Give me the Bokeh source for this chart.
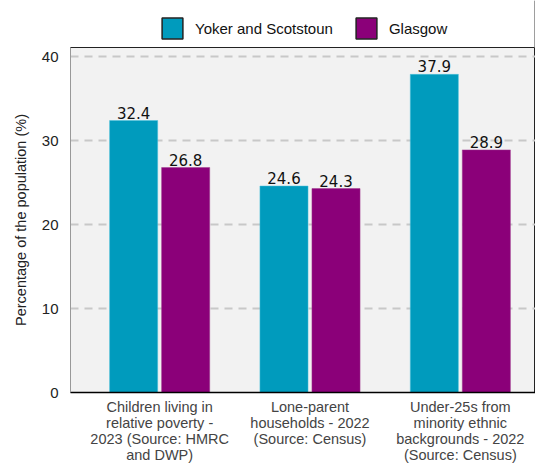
from bokeh.plotting import figure
from bokeh.layouts import column
from bokeh.models import ColumnDataSource, Range1d, Legend, LegendItem, FixedTicker
from bokeh.embed import file_html
from bokeh.resources import INLINE
from bokeh.core.properties import value

categories = ["Children living in\nrelative poverty -\n2023 (Source: HMRC\nand DWP)",
              "Lone-parent\nhouseholds - 2022\n(Source: Census)",
              "Under-25s from\nminority ethnic\nbackgrounds - 2022\n(Source: Census)"]
series_names = ["Yoker and Scotstoun", "Glasgow"]
yoker = [32.4, 24.6, 37.9]
glasgow = [26.8, 24.3, 28.9]
y_ticks = [0, 10, 20, 30, 40]
colors = ["#009bbd", "#8b0079"]

xs = list(range(len(categories)))
off = 0.173
bw = 0.32

# ---- legend strip ----
lf = figure(width=535, height=47, output_backend="svg", toolbar_location=None,
            x_range=Range1d(0, 1), y_range=Range1d(0, 1),
            min_border_left=70, min_border_right=0, min_border_top=0, min_border_bottom=0)
lf.axis.visible = False
lf.grid.visible = False
lf.outline_line_color = None
lf.background_fill_color = "white"
lr1 = lf.vbar(x=[5], top=[5], width=0.1, fill_color=colors[0], line_color="#222222", line_width=1.5)
lr2 = lf.vbar(x=[5], top=[5], width=0.1, fill_color=colors[1], line_color="#222222", line_width=1.5)
legend = Legend(items=[LegendItem(label=series_names[0], renderers=[lr1]),
                       LegendItem(label=series_names[1], renderers=[lr2])],
                orientation="horizontal", location=(89, 6),
                glyph_width=26, glyph_height=26, spacing=20, label_standoff=10,
                label_text_font="Liberation Sans", label_text_font_size="15px",
                label_text_color="#111111", border_line_color=None,
                background_fill_alpha=0, padding=4, margin=0)
lf.add_layout(legend, "center")

# ---- main chart ----
p = figure(width=535, height=418, output_backend="svg", toolbar_location=None,
           x_range=Range1d(-0.593, 2.5), y_range=Range1d(0, 41.1),
           min_border_left=70, min_border_right=0, min_border_top=0, min_border_bottom=0)
p.background_fill_color = "#f2f2f2"
p.border_fill_color = "white"
p.outline_line_color = "#222222"
p.outline_line_width = 1

src1 = ColumnDataSource(dict(x=[x - off for x in xs], top=yoker, lab=[f"{v:.1f}" for v in yoker]))
src2 = ColumnDataSource(dict(x=[x + off for x in xs], top=glasgow, lab=[f"{v:.1f}" for v in glasgow]))

r1 = p.vbar(x="x", top="top", width=bw, source=src1, fill_color=colors[0], line_color="#4fc3dc", line_width=0.5)
r2 = p.vbar(x="x", top="top", width=bw, source=src2, fill_color=colors[1], line_color="#a03a8f", line_width=0.5)

for s in (src1, src2):
    p.text(x="x", y="top", text="lab", source=s, text_align="center", text_baseline="bottom",
           y_offset=-2, text_font=value("DejaVu Sans"), text_font_size="15px", text_color="#111111")

p.xgrid.visible = False
p.ygrid.ticker = FixedTicker(ticks=y_ticks)
p.ygrid.grid_line_color = "#c8c8c8"
p.ygrid.grid_line_width = 2
p.ygrid.grid_line_dash = "8 6"

p.yaxis.ticker = FixedTicker(ticks=y_ticks)
p.yaxis.axis_label = "Percentage of the population (%)"
p.yaxis.axis_label_text_font = "Liberation Sans"
p.yaxis.axis_label_text_font_style = "normal"
p.yaxis.axis_label_text_font_size = "14.5px"
p.yaxis.axis_label_text_color = "#222222"
p.yaxis.axis_label_standoff = 10
p.yaxis.major_label_text_font = "Liberation Sans"
p.yaxis.major_label_text_font_size = "15px"
p.yaxis.major_label_text_color = "#222222"
p.yaxis.axis_line_color = "#999999"
p.yaxis.major_tick_line_color = None
p.yaxis.minor_tick_line_color = None
p.yaxis.major_label_standoff = 6

p.xaxis.ticker = FixedTicker(ticks=xs)
p.xaxis.major_label_overrides = {i: c for i, c in enumerate(categories)}
p.xaxis.major_label_text_font = "Liberation Sans"
p.xaxis.major_label_text_font_size = "14.5px"
p.xaxis.major_label_text_color = "#444444"
p.xaxis.major_label_text_line_height = 1.0
p.xaxis.axis_line_color = "black"
p.xaxis.axis_line_width = 1.5
p.xaxis.major_tick_line_color = None
p.xaxis.minor_tick_line_color = None
p.xaxis.major_label_standoff = 0

layout = column(lf, p, spacing=0)
out = file_html(layout, INLINE)
open("out.html", "w").write(out)
